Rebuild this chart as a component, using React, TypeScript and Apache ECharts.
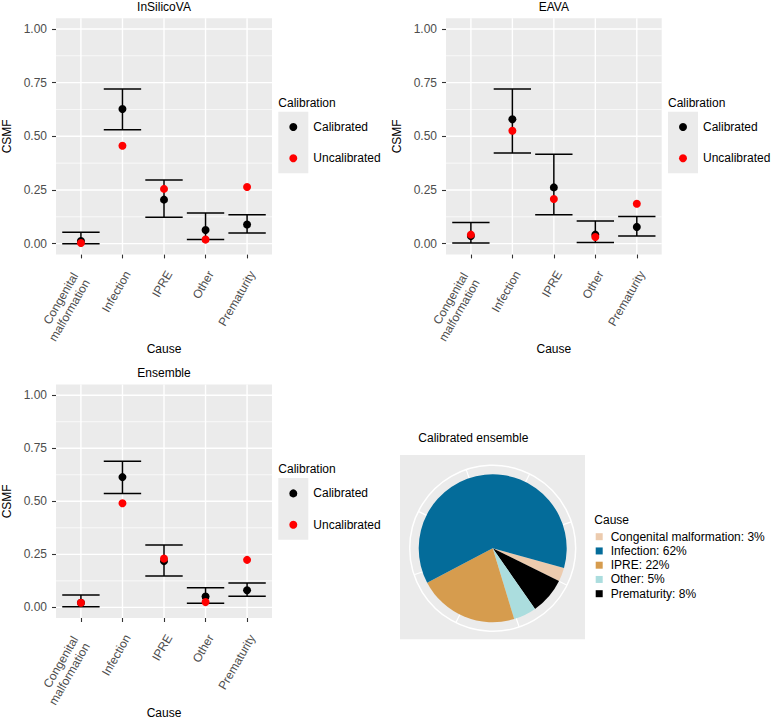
import React, { useEffect, useRef } from 'react';
import * as echarts from 'echarts';

const causes = ['Congenital\nmalformation', 'Infection', 'IPRE', 'Other', 'Prematurity'];
const causePositions = [0, 1, 2, 3, 4];
const singleLinePositions = [1, 2, 3, 4];
const twoLinePositions = [0];
const yTicks = [0, 0.25, 0.5, 0.75, 1];
const yMinor = [0.125, 0.375, 0.625, 0.875];

const insilicoCal = [0.012, 0.627, 0.205, 0.064, 0.089];
const insilicoUncal = [0.003, 0.456, 0.255, 0.019, 0.264];
const insilicoLow = [0.0, 0.531, 0.123, 0.019, 0.05];
const insilicoHigh = [0.053, 0.72, 0.297, 0.143, 0.135];

const eavaCal = [0.036, 0.579, 0.262, 0.042, 0.078];
const eavaUncal = [0.042, 0.526, 0.208, 0.031, 0.186];
const eavaLow = [0.003, 0.422, 0.135, 0.005, 0.036];
const eavaHigh = [0.098, 0.72, 0.416, 0.106, 0.127];

const ensCal = [0.022, 0.614, 0.218, 0.051, 0.081];
const ensUncal = [0.022, 0.491, 0.23, 0.025, 0.224];
const ensLow = [0.003, 0.537, 0.148, 0.019, 0.053];
const ensHigh = [0.058, 0.689, 0.294, 0.093, 0.115];

const pieNames = ['Congenital malformation', 'Infection', 'IPRE', 'Other', 'Prematurity'];
const piePct = [3, 62, 22, 5, 8];
const pieColors = ['#ECCBAE', '#046C9A', '#D69C4E', '#ABDDDE', '#000000'];
const pieDrawOrder = [0, 4, 3, 2, 1];

const FONT = 'Liberation Sans, Arial, Helvetica, sans-serif';

const panels = [
  { title: 'InSilicoVA', cal: insilicoCal, uncal: insilicoUncal, low: insilicoLow, high: insilicoHigh, left: 56, top: 18.2, width: 216, height: 236.2 },
  { title: 'EAVA', cal: eavaCal, uncal: eavaUncal, low: eavaLow, high: eavaHigh, left: 446, top: 18.2, width: 215.7, height: 236.2 },
  { title: 'Ensemble', cal: ensCal, uncal: ensUncal, low: ensLow, high: ensHigh, left: 56, top: 384.6, width: 216, height: 235.8 },
];

function buildOption() {
  const grid: any[] = [];
  const xAxis: any[] = [];
  const yAxis: any[] = [];
  const series: any[] = [];
  const legend: any[] = [];
  const graphic: any[] = [];

  panels.forEach((p, i) => {
    grid.push({
      left: p.left, top: p.top, width: p.width, height: p.height,
      show: true, backgroundColor: '#EBEBEB', borderWidth: 0,
    });
    const xi = 2 * i;
    xAxis.push({
      type: 'value', gridIndex: i, min: -0.6, max: 4.6, position: 'bottom',
      name: 'Cause', nameLocation: 'middle', nameGap: 89,
      nameTextStyle: { fontSize: 12, color: '#000', fontFamily: FONT },
      axisLine: { show: false, onZero: false },
      axisTick: { show: true, length: 4, customValues: causePositions, lineStyle: { color: '#333333', width: 1.1 } },
      axisLabel: {
        customValues: singleLinePositions, rotate: 60, margin: 14.5, align: 'right', verticalAlign: 'top',
        fontSize: 12, color: '#4D4D4D', fontFamily: FONT, lineHeight: 12,
        formatter: (v: number) => causes[Math.round(v)] ?? '',
      },
      splitLine: { show: false },
    });
    xAxis.push({
      type: 'value', gridIndex: i, min: -0.6, max: 4.6, position: 'bottom',
      axisLine: { show: false, onZero: false },
      axisTick: { show: false, customValues: twoLinePositions },
      axisLabel: {
        customValues: twoLinePositions, rotate: 60, margin: 22.6, align: 'right', verticalAlign: 'middle',
        fontSize: 12, color: '#4D4D4D', fontFamily: FONT, lineHeight: 13.5,
        formatter: (v: number) => causes[Math.round(v)] ?? '',
      },
      splitLine: { show: false },
    });
    yAxis.push({
      type: 'value', gridIndex: i, min: -0.05, max: 1.05, position: 'left',
      name: 'CSMF', nameLocation: 'middle', nameGap: 43,
      nameTextStyle: { fontSize: 12, color: '#000', fontFamily: FONT },
      axisLine: { show: false, onZero: false },
      axisTick: { show: true, length: 4, customValues: yTicks, lineStyle: { color: '#333333', width: 1.1 } },
      axisLabel: {
        customValues: yTicks, margin: 9, fontSize: 12, color: '#4D4D4D', fontFamily: FONT,
        formatter: (v: number) => v.toFixed(2),
      },
      splitLine: { show: false },
    });

    // panel grid lines (major and minor), placed through the axes' scales
    series.push({
      type: 'custom', name: 'gridlines', xAxisIndex: xi, yAxisIndex: i, silent: true, z: 1,
      clip: false,
      data: [[0]],
      renderItem: (params: any, api: any) => {
        const children: any[] = [];
        const major = { stroke: '#FFFFFF', lineWidth: 1.4 };
        const minor = { stroke: '#FFFFFF', lineWidth: 0.7 };
        yMinor.forEach((v) => {
          const a = api.coord([-0.6, v]);
          const b = api.coord([4.6, v]);
          children.push({ type: 'line', shape: { x1: a[0], y1: a[1], x2: b[0], y2: b[1] }, style: minor });
        });
        yTicks.forEach((v) => {
          const a = api.coord([-0.6, v]);
          const b = api.coord([4.6, v]);
          children.push({ type: 'line', shape: { x1: a[0], y1: a[1], x2: b[0], y2: b[1] }, style: major });
        });
        causePositions.forEach((v) => {
          const a = api.coord([v, -0.05]);
          const b = api.coord([v, 1.05]);
          children.push({ type: 'line', shape: { x1: a[0], y1: a[1], x2: b[0], y2: b[1] }, style: major });
        });
        return { type: 'group', children };
      },
    });

    series.push({
      type: 'scatter', name: 'Calibrated', xAxisIndex: xi, yAxisIndex: i,
      symbol: 'circle', symbolSize: 8, itemStyle: { color: '#000000', opacity: 1 },
      data: p.cal.map((v, k) => [causePositions[k], v]), z: 3,
    });
    series.push({
      type: 'custom', name: 'errorbar', xAxisIndex: xi, yAxisIndex: i,
      encode: { x: 0, y: [1, 2] },
      data: p.low.map((v, k) => [causePositions[k], v, p.high[k]]),
      z: 4,
      renderItem: (params: any, api: any) => {
        const x = api.value(0);
        const lo = api.value(1);
        const hi = api.value(2);
        const pLo = api.coord([x, lo]);
        const pHi = api.coord([x, hi]);
        const pL = api.coord([x - 0.45, lo]);
        const pR = api.coord([x + 0.45, lo]);
        const hw = (pR[0] - pL[0]) / 2;
        const style = { stroke: '#000000', lineWidth: 1.5, fill: null };
        return {
          type: 'group',
          children: [
            { type: 'line', shape: { x1: pLo[0], y1: pLo[1], x2: pHi[0], y2: pHi[1] }, style },
            { type: 'line', shape: { x1: pLo[0] - hw, y1: pLo[1], x2: pLo[0] + hw, y2: pLo[1] }, style },
            { type: 'line', shape: { x1: pHi[0] - hw, y1: pHi[1], x2: pHi[0] + hw, y2: pHi[1] }, style },
          ],
        };
      },
    });
    series.push({
      type: 'scatter', name: 'Uncalibrated', xAxisIndex: xi, yAxisIndex: i,
      symbol: 'circle', symbolSize: 8, itemStyle: { color: '#FF0000', opacity: 1 },
      data: p.uncal.map((v, k) => [causePositions[k], v]), z: 5,
    });

    const lx = p.left + p.width + 6.3;
    const cy = p.top + 84.8;
    graphic.push({
      type: 'text', x: p.left + p.width / 2, y: p.top - 11.2,
      style: { text: p.title, fontSize: 12, fill: '#000', fontFamily: FONT, align: 'center', verticalAlign: 'middle' },
    });
    graphic.push({
      type: 'text', x: lx, y: cy,
      style: { text: 'Calibration', fontSize: 12, fill: '#000', fontFamily: FONT, align: 'left', verticalAlign: 'middle' },
    });
    graphic.push({
      type: 'rect', shape: { x: lx, y: cy + 8.7, width: 30, height: 61.6 },
      style: { fill: '#EBEBEB' }, z: -1,
    });
    legend.push({
      orient: 'vertical', left: lx + 11, top: cy + 24 - 7, padding: 0,
      itemWidth: 8, itemHeight: 8, itemGap: 17.3,
      data: [{ name: 'Calibrated', icon: 'circle' }, { name: 'Uncalibrated', icon: 'circle' }],
      textStyle: { fontSize: 12, color: '#000', fontFamily: FONT, lineHeight: 14, padding: [0, 0, 0, 11] },
      selectedMode: false, z: 10,
    });
  });

  // pie panel
  const pcx = 492.7;
  const pcy = 548.3;
  graphic.push({
    type: 'rect', shape: { x: 400, y: 455, width: 185, height: 184.3 },
    style: { fill: '#EBEBEB' }, z: -1,
  });
  graphic.push({
    type: 'text', x: 418.3, y: 438.3,
    style: { text: 'Calibrated ensemble', fontSize: 12, fill: '#000', fontFamily: FONT, align: 'left', verticalAlign: 'middle' },
  });
  graphic.push({
    type: 'text', x: 594.3, y: 520.3,
    style: { text: 'Cause', fontSize: 12, fill: '#000', fontFamily: FONT, align: 'left', verticalAlign: 'middle' },
  });

  series.push({
    type: 'pie', name: 'Calibrated ensemble', center: [pcx, pcy], radius: 74,
    startAngle: -15.5, clockwise: true, label: { show: false }, labelLine: { show: false },
    emphasis: { disabled: true }, z: 5,
    data: pieDrawOrder.map((k) => ({ name: pieNames[k], value: piePct[k], itemStyle: { color: pieColors[k] } })),
  });

  legend.push({
    orient: 'vertical', left: 595.7, top: 529.7, padding: 0,
    itemWidth: 7, itemHeight: 7, itemGap: 0.25, icon: 'rect',
    data: pieNames.map((n) => ({ name: n, icon: 'rect' })),
    formatter: (name: string) => `${name}: ${piePct[pieNames.indexOf(name)]}%`,
    textStyle: { fontSize: 12, color: '#000', fontFamily: FONT, lineHeight: 14, padding: [0, 0, 0, 3] },
    selectedMode: false, z: 10,
  });

  return {
    animation: false,
    backgroundColor: '#FFFFFF',
    textStyle: { fontFamily: FONT },
    grid, xAxis, yAxis, series, legend, graphic,
    polar: { center: [pcx, pcy], radius: 83 },
    angleAxis: {
      type: 'value', min: 0, max: 8, interval: 1, startAngle: 90 - 26.4, clockwise: true,
      axisLine: { show: true, lineStyle: { color: '#FFFFFF', width: 1.5 } },
      axisTick: { show: false }, axisLabel: { show: false },
      splitLine: { show: true, lineStyle: { color: '#FFFFFF', width: 1.2 } },
    },
    radiusAxis: {
      type: 'value', min: 0, max: 1, axisLine: { show: false }, axisTick: { show: false },
      axisLabel: { show: false }, splitLine: { show: false },
    },
  };
}

export default function App() {
  const ref = useRef<HTMLDivElement>(null);
  useEffect(() => {
    if (!ref.current) return;
    const chart = echarts.init(ref.current, null, { renderer: 'svg' });
    chart.setOption(buildOption() as any);
    return () => chart.dispose();
  }, []);
  return <div ref={ref} style={{ position: 'fixed', left: 0, top: 0, width: 771, height: 720 }} />;
}
